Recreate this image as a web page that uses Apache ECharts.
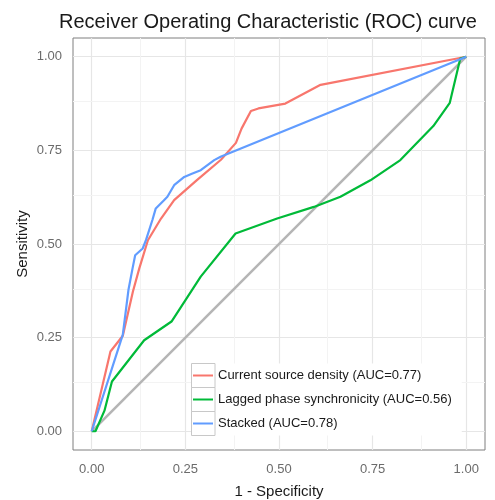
<!DOCTYPE html>
<html lang="en">
<head>
    <meta charset="UTF-8">
    <title>ROC curve</title>
    <script src="https://cdn.jsdelivr.net/npm/echarts@6/dist/echarts.min.js"></script>
    <style>
        html, body { margin: 0; padding: 0; background: #fff; }
        #roc { width: 495px; height: 500px; }
    </style>
</head>
<body>
<div id="roc"></div>
<script>
    // data: [1 - specificity, sensitivity]
    var csdPoints = [[0,0],[0.05,0.213],[0.083,0.255],[0.11,0.373],[0.127,0.435],[0.15,0.51],[0.185,0.568],
        [0.22,0.617],[0.28,0.67],[0.345,0.725],[0.385,0.77],[0.40,0.808],[0.425,0.855],[0.445,0.862],
        [0.517,0.875],[0.611,0.925],[1,1]];
    var lpsPoints = [[0,0],[0.01,0],[0.034,0.055],[0.054,0.133],[0.14,0.243],[0.213,0.293],[0.291,0.413],
        [0.384,0.528],[0.495,0.568],[0.593,0.599],[0.664,0.626],[0.744,0.67],[0.824,0.724],[0.912,0.815],
        [0.956,0.877],[0.984,0.995],[1,1]];
    var stackedPoints = [[0,0],[0.083,0.258],[0.098,0.377],[0.109,0.435],[0.116,0.47],[0.136,0.488],
        [0.145,0.511],[0.162,0.564],[0.171,0.595],[0.193,0.617],[0.202,0.626],[0.22,0.657],[0.247,0.679],
        [0.269,0.688],[0.291,0.697],[0.327,0.724],[0.344,0.733],[1,1]];
    var chancePoints = [[0,0],[1,1]];

    var seriesNames = ['Current source density (AUC=0.77)', 'Lagged phase synchronicity (AUC=0.56)', 'Stacked (AUC=0.78)'];
    var seriesColors = ['#F8766D', '#00BA38', '#619CFF'];

    var majorTicks = [0, 0.25, 0.5, 0.75, 1];
    var minorTicks = [0.125, 0.375, 0.625, 0.875];

    var rocChart = echarts.init(document.getElementById('roc'));

    // grid lines as mark lines (axis range starts at -0.05, so ticks are custom)
    var gridLines = [];
    majorTicks.forEach(function (v) {
        gridLines.push({xAxis: v, lineStyle: {color: '#e6e6e6', width: 1.2, type: 'solid'}});
        gridLines.push({yAxis: v, lineStyle: {color: '#e6e6e6', width: 1.2, type: 'solid'}});
    });
    minorTicks.forEach(function (v) {
        gridLines.push({xAxis: v, lineStyle: {color: '#f3f3f3', width: 1, type: 'solid'}});
        gridLines.push({yAxis: v, lineStyle: {color: '#f3f3f3', width: 1, type: 'solid'}});
    });

    var curveSeries = [];
    var curves = [csdPoints, lpsPoints, stackedPoints];
    for (var i = 0; i < curves.length; i++) {
        curveSeries.push({
            name: seriesNames[i],
            type: 'line',
            data: curves[i],
            showSymbol: false,
            symbol: 'none',
            z: 3,
            lineStyle: {color: seriesColors[i], width: 2.2},
            itemStyle: {color: seriesColors[i]}
        });
    }

    var axisCommon = {
        type: 'value',
        min: -0.05,
        max: 1.05,
        axisLine: {show: false},
        splitLine: {show: false},
        axisTick: {show: true, customValues: majorTicks, length: 5, lineStyle: {color: '#333', width: 1}},
        axisLabel: {customValues: majorTicks, color: '#6b6b6b', fontSize: 13, margin: 11,
            fontFamily: 'Liberation Sans',
            formatter: function (v) { return v.toFixed(2); }},
        nameLocation: 'middle',
        nameMoveOverlap: false,
        nameTextStyle: {color: '#1a1a1a', fontSize: 15, fontFamily: 'Liberation Sans'}
    };

    var option = {
        animation: false,
        backgroundColor: '#fff',
        title: {
            text: 'Receiver Operating Characteristic (ROC) curve',
            left: 54,
            top: 7,
            textStyle: {color: '#1a1a1a', fontSize: 20, fontWeight: 'normal', fontFamily: 'Liberation Sans'}
        },
        grid: {
            left: 73, right: 10, top: 38, bottom: 50,
            outerBoundsMode: 'none',
            show: true, borderColor: '#7f7f7f', borderWidth: 1, backgroundColor: '#fff'
        },
        xAxis: Object.assign({}, axisCommon, {
            name: '1 - Specificity', nameGap: 34,
            axisLabel: Object.assign({}, axisCommon.axisLabel, {margin: 13})
        }),
        yAxis: Object.assign({}, axisCommon, {name: 'Sensitivity', nameGap: 43}),
        legend: {
            data: seriesNames,
            orient: 'vertical',
            left: 191,
            top: 363.5,
            padding: [0, 10, 0, 2],
            itemGap: 0,
            itemWidth: 20,
            itemHeight: 2,
            icon: 'rect',
            backgroundColor: '#fff',
            z: 5,
            textStyle: {color: '#1a1a1a', fontSize: 13, lineHeight: 24, fontFamily: 'Liberation Sans'}
        },
        graphic: [0, 1, 2].map(function (k) {
            return {
                type: 'rect', z: 10, silent: true,
                shape: {x: 191.5, y: 363.5 + k * 24, width: 23.5, height: 24},
                style: {fill: 'none', stroke: '#c8c8c8', lineWidth: 1}
            };
        }),
        series: [
            {
                name: 'grid',
                type: 'line',
                data: [],
                z: 1,
                markLine: {silent: true, z: 1, symbol: 'none', label: {show: false}, data: gridLines}
            },
            {
                name: 'chance',
                type: 'line',
                data: chancePoints,
                showSymbol: false,
                symbol: 'none',
                z: 2,
                lineStyle: {color: '#b5b5b5', width: 2.5}
            }
        ].concat(curveSeries)
    };

    rocChart.setOption(option);
</script>
</body>
</html>
